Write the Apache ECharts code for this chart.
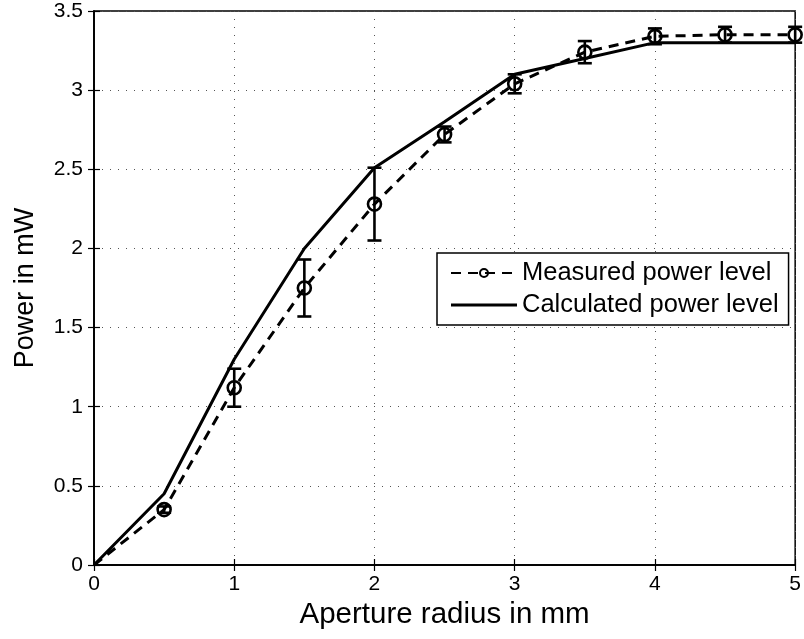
<!DOCTYPE html>
<html>
<head>
<meta charset="utf-8">
<script src="https://cdn.jsdelivr.net/npm/echarts@6/dist/echarts.min.js"></script>
<style>html,body{margin:0;padding:0;background:#fff;}#c{width:804px;height:639px;}</style>
</head>
<body>
<div id="c"></div>
<script>
var radius = [0, 0.5, 1, 1.5, 2, 2.5, 3, 3.5, 4, 4.5, 5];
var measured = [0, 0.35, 1.12, 1.75, 2.28, 2.72, 3.04, 3.24, 3.34, 3.35, 3.35];
var measuredErr = [0, 0.02, 0.12, 0.18, 0.23, 0.05, 0.06, 0.07, 0.05, 0.05, 0.05];
var calculated = [0, 0.45, 1.3, 2.0, 2.51, 2.8, 3.1, 3.2, 3.3, 3.3, 3.3];
var xTicks = [0, 1, 2, 3, 4, 5];
var yTicks = [0, 0.5, 1, 1.5, 2, 2.5, 3, 3.5];

var font = 'Liberation Sans, Arial, Helvetica, sans-serif';
var chart = echarts.init(document.getElementById('c'));

var measuredData = radius.map(function (x, i) {
  var d = { value: [x, measured[i]] };
  if (i === 0) d.symbol = 'none';
  return d;
});
var calcData = radius.map(function (x, i) { return [x, calculated[i]]; });
var errData = radius.map(function (x, i) { return [x, measured[i] - measuredErr[i], measured[i] + measuredErr[i]]; });

var tickCommon = { show: true, inside: true, length: 6, lineStyle: { color: '#000', width: 1.2 } };
var lineCommon = { show: true, lineStyle: { color: '#000', width: 1.5 } };
var splitCommon = { show: true, lineStyle: { color: '#555', width: 1, type: [1, 7] } };

chart.setOption({
  animation: false,
  backgroundColor: '#fff',
  grid: { left: 94, right: 7, top: 11, bottom: 74, show: true, borderColor: '#000', borderWidth: 1.5, backgroundColor: 'transparent' },
  legend: {
    left: 437, top: 253,
    orient: 'vertical',
    backgroundColor: '#fff',
    borderColor: '#000', borderWidth: 1.5, borderRadius: 0,
    padding: [7, 10, 7, 13],
    itemWidth: 66, itemHeight: 10, itemGap: 6,
    textStyle: { fontFamily: font, fontSize: 25.5, color: '#000', lineHeight: 26 },
    data: [
      { name: 'Measured power level' },
      { name: 'Calculated power level', icon: 'path://M0,0 L66,0 L66,3 L0,3 Z' }
    ]
  },
  xAxis: [{
    type: 'value', min: 0, max: 5, interval: 1,
    name: 'Aperture radius in mm', nameLocation: 'middle', nameGap: 34,
    nameTextStyle: { fontFamily: font, fontSize: 29.5, color: '#000' },
    axisLine: lineCommon, axisTick: tickCommon, splitLine: splitCommon,
    axisLabel: { fontFamily: font, fontSize: 21, color: '#000', margin: 9,
      formatter: function (v) { return xTicks.indexOf(v) >= 0 ? String(v) : ''; } }
  }, {
    type: 'value', min: 0, max: 5, interval: 1, position: 'top',
    axisLine: lineCommon, axisTick: tickCommon, splitLine: { show: false }, axisLabel: { show: false }
  }],
  yAxis: [{
    type: 'value', min: 0, max: 3.5, interval: 0.5,
    name: 'Power in mW', nameLocation: 'middle', nameGap: 55,
    nameTextStyle: { fontFamily: font, fontSize: 27, color: '#000' },
    axisLine: lineCommon, axisTick: tickCommon, splitLine: splitCommon,
    axisLabel: { fontFamily: font, fontSize: 21, color: '#000', margin: 11,
      formatter: function (v) { return yTicks.indexOf(v) >= 0 ? String(v) : ''; } }
  }, {
    type: 'value', min: 0, max: 3.5, interval: 0.5, position: 'right',
    axisLine: lineCommon, axisTick: tickCommon, splitLine: { show: false }, axisLabel: { show: false }
  }],
  series: [{
    name: 'Calculated power level',
    type: 'line',
    data: calcData,
    symbol: 'none',
    lineStyle: { color: '#000', width: 3 },
    itemStyle: { color: '#000' },
    z: 3
  }, {
    name: 'Measured power level',
    type: 'line',
    data: measuredData,
    symbol: 'circle',
    symbolSize: 13,
    lineStyle: { color: '#000', width: 3, type: [10, 7] },
    itemStyle: { color: 'rgba(0,0,0,0)', borderColor: '#000', borderWidth: 2.6 },
    z: 4
  }, {
    name: 'errors',
    type: 'custom',
    data: errData,
    renderItem: function (params, api) {
      var x = api.value(0), lo = api.value(1), hi = api.value(2);
      if (hi - lo <= 0) return null;
      var p1 = api.coord([x, lo]);
      var p2 = api.coord([x, hi]);
      var w = 7;
      var st = { stroke: '#000', lineWidth: 2.6 };
      return {
        type: 'group',
        children: [
          { type: 'line', shape: { x1: p1[0], y1: p1[1], x2: p2[0], y2: p2[1] }, style: st },
          { type: 'line', shape: { x1: p1[0] - w, y1: p1[1], x2: p1[0] + w, y2: p1[1] }, style: st },
          { type: 'line', shape: { x1: p2[0] - w, y1: p2[1], x2: p2[0] + w, y2: p2[1] }, style: st }
        ]
      };
    },
    z: 5
  }]
});
</script>
</body>
</html>
